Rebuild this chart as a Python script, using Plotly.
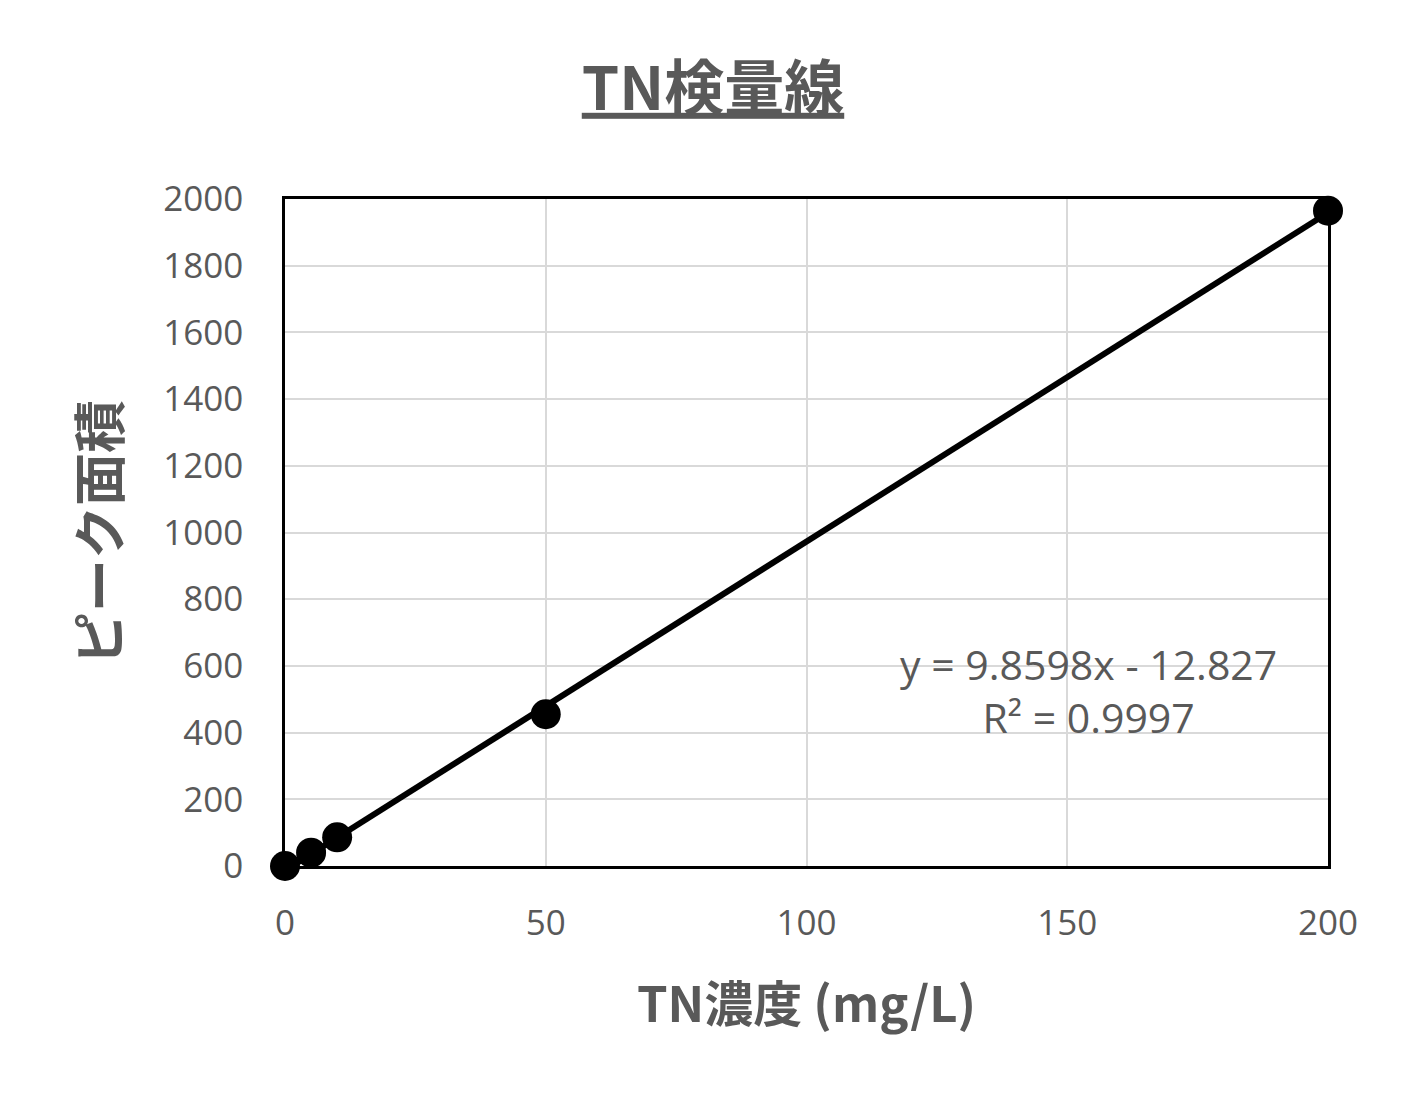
import numpy as np
import plotly.graph_objects as go

# TN calibration data
conc = [0, 5, 10, 50, 200]
area = [0, 40, 86, 455, 1965]
x_ticks = [0, 50, 100, 150, 200]
y_ticks = [0, 200, 400, 600, 800, 1000, 1200, 1400, 1600, 1800, 2000]
eq_text = "y = 9.8598x - 12.827<br>R² = 0.9997"

gray = "#595959"
font_main = "Open Sans, Noto Sans CJK JP, sans-serif"
font_jp = "Noto Sans CJK JP, sans-serif"

# linear trendline fitted to the points
slope, intercept = np.polyfit(conc, area, 1)
fit_x = [min(conc), max(conc)]
fit_y = [slope * v + intercept for v in fit_x]

fig = go.Figure()
fig.add_trace(go.Scatter(x=fit_x, y=fit_y, mode="lines",
                         line=dict(color="black", width=6),
                         showlegend=False, cliponaxis=False))
fig.add_trace(go.Scatter(x=conc, y=area, mode="markers",
                         marker=dict(color="black", size=30),
                         showlegend=False, cliponaxis=False))

fig.add_annotation(x=154, y=527, xref="x", yref="y", text=eq_text,
                   showarrow=False, align="center",
                   font=dict(family=font_main, size=41, color=gray))

fig.update_layout(
    width=1410, height=1107,
    paper_bgcolor="white", plot_bgcolor="white",
    margin=dict(l=277, r=90, t=191, b=249),
    title=dict(text="<b><u>TN検量線</u></b>", x=0.5, xanchor="center",
               y=0.927, yanchor="middle",
               font=dict(family=font_jp, size=60, color=gray)),
    xaxis=dict(range=[0, 200], tickvals=x_ticks, showgrid=True,
               gridcolor="#d9d9d9", gridwidth=2, zeroline=False,
               showline=True, linecolor="black", linewidth=2.5, mirror=True,
               ticks="", ticklabelstandoff=24,
               tickfont=dict(family=font_main, size=35, color=gray),
               title=dict(text="<b>TN濃度 (mg/L)</b>", standoff=44,
                          font=dict(family=font_jp, size=49, color=gray))),
    yaxis=dict(range=[0, 2000], tickvals=y_ticks, showgrid=True,
               gridcolor="#d9d9d9", gridwidth=2, zeroline=False,
               showline=True, linecolor="black", linewidth=2.5, mirror=True,
               ticks="", ticklabelstandoff=32,
               tickfont=dict(family=font_main, size=35, color=gray),
               title=dict(text="<b>ピーク面積</b>", standoff=26,
                          font=dict(family=font_jp, size=53, color=gray))),
)

fig.write_html("out.html")
